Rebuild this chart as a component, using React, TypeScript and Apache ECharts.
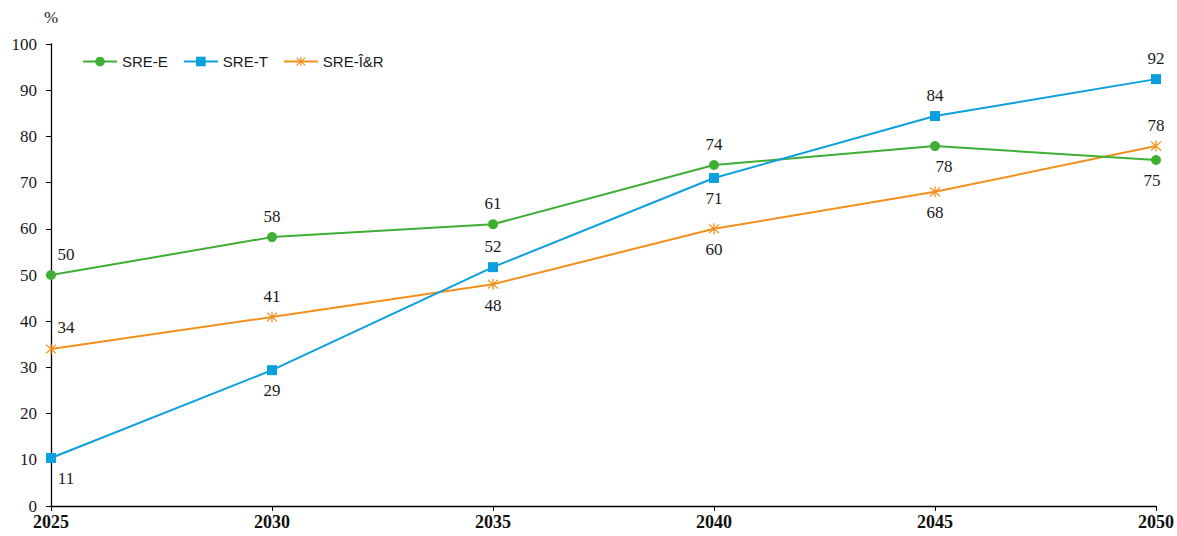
import React, { useEffect, useRef } from "react";
import * as echarts from "echarts";

const years = ["2025", "2030", "2035", "2040", "2045", "2050"];
const sreE = [50, 58.2, 61, 73.8, 77.9, 74.9];
const sreT = [10.4, 29.4, 51.7, 71, 84.4, 92.4];
const sreIR = [34, 40.9, 48, 60, 68, 77.9];
const labelsE = ["50", "58", "61", "74", "78", "75"];
const labelsT = ["11", "29", "52", "71", "84", "92"];
const labelsIR = ["34", "41", "48", "60", "68", "78"];
// label side per point: "top" or "bottom"
const posE = ["top", "top", "top", "top", "bottom", "bottom"];
const posT = ["bottom", "bottom", "top", "bottom", "top", "top"];
const posIR = ["top", "top", "bottom", "bottom", "bottom", "top"];
const dxE = [15, 0, 0, 0, 9, -4];
const dxT = [15, 0, 0, 0, 0, 0];
const dxIR = [15, 0, 0, 0, 0, 0];

const GREEN = "#3FAE34";
const BLUE = "#0AA0DE";
const ORANGE = "#F2901C";

const SERIF = "Liberation Serif";
const SANS = "Liberation Sans";

const ASTERISK =
  "path://M9,0 L11,0 L11,20 L9,20 Z M1.3,2.7 L2.7,1.3 L18.7,17.3 L17.3,18.7 Z M17.3,1.3 L18.7,2.7 L2.7,18.7 L1.3,17.3 Z";

function build(values: number[], labels: string[], pos: string[], dx: number[]) {
  return values.map((v, i) => ({
    value: v,
    label: {
      show: true,
      position: pos[i],
      distance: 7,
      offset: [dx[i], 0],
      formatter: labels[i],
      fontFamily: SERIF,
      fontSize: 17,
      color: "#1a1a1a",
    },
  }));
}

export default function App() {
  const ref = useRef<HTMLDivElement>(null);
  useEffect(() => {
    if (!ref.current) return;
    const chart = echarts.init(ref.current, null, { renderer: "svg" });
    chart.setOption({
      animation: false,
      backgroundColor: "#fff",
      textStyle: { fontFamily: SERIF },
      grid: { left: 51, right: 19, top: 44, bottom: 30, containLabel: false },
      legend: {
        left: 77,
        top: 49,
        itemWidth: 34,
        itemHeight: 12,
        itemGap: 15,
        textStyle: {
          fontFamily: SANS,
          fontSize: 15,
          color: "#1a1a1a",
        },
        data: ["SRE-E", "SRE-T", "SRE-Î&R"],
      },
      xAxis: {
        type: "category",
        data: years,
        boundaryGap: false,
        axisLine: { lineStyle: { color: "#000", width: 1.3 } },
        axisTick: { alignWithLabel: true, length: 5, lineStyle: { color: "#000" } },
        axisLabel: {
          fontFamily: SERIF,
          fontSize: 18,
          fontWeight: "bold",
          color: "#111",
          margin: 7,
        },
        splitLine: { show: false },
      },
      yAxis: {
        type: "value",
        min: 0,
        max: 100,
        interval: 10,
        name: "%",
        nameLocation: "end",
        nameGap: 18,
        nameTextStyle: {
          fontFamily: SERIF,
          fontSize: 17,
          color: "#1a1a1a",
          align: "center",
        },
        axisLine: { show: true, lineStyle: { color: "#000", width: 1.3 } },
        axisTick: { show: true, length: 5, lineStyle: { color: "#000" } },
        axisLabel: {
          fontFamily: SERIF,
          fontSize: 17,
          color: "#1a1a1a",
          margin: 14,
        },
        splitLine: { show: false },
      },
      series: [
        {
          name: "SRE-E",
          type: "line",
          data: build(sreE, labelsE, posE, dxE),
          symbol: "circle",
          symbolSize: 10,
          lineStyle: { color: GREEN, width: 2 },
          itemStyle: { color: GREEN },
          z: 3,
        },
        {
          name: "SRE-T",
          type: "line",
          data: build(sreT, labelsT, posT, dxT),
          symbol: "rect",
          symbolSize: 10,
          lineStyle: { color: BLUE, width: 2 },
          itemStyle: { color: BLUE },
          z: 4,
        },
        {
          name: "SRE-Î&R",
          type: "line",
          data: build(sreIR, labelsIR, posIR, dxIR),
          symbol: ASTERISK,
          symbolSize: 11,
          lineStyle: { color: ORANGE, width: 2 },
          itemStyle: { color: ORANGE },
          z: 2,
        },
      ],
    });
    return () => chart.dispose();
  }, []);
  return (
    <div
      ref={ref}
      style={{ position: "absolute", left: 0, top: 0, width: 1177, height: 536, background: "#fff" }}
    />
  );
}
